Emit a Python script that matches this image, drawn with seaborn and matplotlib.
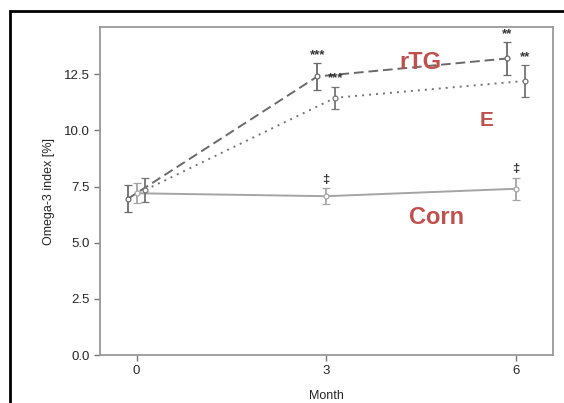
import matplotlib
matplotlib.use("Agg")
import matplotlib.pyplot as plt
from matplotlib.patches import Rectangle
import numpy as np
import pandas as pd
import seaborn as sns

months = [0, 3, 6]
offsets = {"rTG": -0.14, "Corn": 0.0, "E": 0.14}

rtg_mean = [6.95, 12.4, 13.2]
rtg_err = [0.6, 0.6, 0.73]
rtg_marks = ["", "***", "**"]

e_mean = [7.35, 11.45, 12.2]
e_err = [0.55, 0.5, 0.7]
e_marks = ["", "***", "**"]

corn_mean = [7.2, 7.07, 7.4]
corn_err = [0.45, 0.35, 0.5]
corn_marks = ["", "\u2021", "\u2021"]

series = [
    ("rTG", rtg_mean, rtg_err, rtg_marks, "#6a6a6a", (5, 2.5)),
    ("E", e_mean, e_err, e_marks, "#747474", (1, 2.6)),
    ("Corn", corn_mean, corn_err, corn_marks, "#a4a4a4", ""),
]

sns.set_style("ticks")
plt.rcParams["font.family"] = ["Liberation Sans", "DejaVu Sans"]

fig = plt.figure(figsize=(5.64, 4.03), dpi=100)
ax = fig.add_axes([0.177, 0.119, 0.803, 0.814])

frames = []
for name, mean, err, marks, color, dash in series:
    frames.append(pd.DataFrame({
        "x": np.array(months) + offsets[name],
        "y": mean, "err": err, "group": name,
    }))
df = pd.concat(frames, ignore_index=True)

sns.lineplot(
    data=df, x="x", y="y", hue="group", style="group",
    palette={s[0]: s[4] for s in series},
    dashes={s[0]: s[5] for s in series},
    markers=False, linewidth=1.4, legend=False, ax=ax,
)

for name, mean, err, marks, color, dash in series:
    xs = np.array(months) + offsets[name]
    ax.errorbar(xs, mean, yerr=err, fmt="o", ms=3.5, mfc="white", mec=color,
                mew=0.9, ecolor=color, elinewidth=1.3, capsize=3, capthick=1.3,
                zorder=3)
    for x, m, e, t in zip(xs, mean, err, marks):
        if t:
            ax.annotate(t, (x, m + e), xytext=(0, 1.5), textcoords="offset points",
                        ha="center", va="bottom", fontsize=9.5, color="#333333",
                        fontweight="bold")

red = "#c0504d"
ax.text(4.16, 12.75, "rTG", color=red, fontsize=17, fontweight="bold")
ax.text(5.43, 10.2, "E", color=red, fontsize=15, fontweight="bold")
ax.text(4.3, 5.85, "Corn", color=red, fontsize=17, fontweight="bold")

ax.set_xlim(-0.58, 6.58)
ax.set_ylim(0, 14.6)
ax.set_xticks(months)
ax.set_yticks([0, 2.5, 5.0, 7.5, 10.0, 12.5])
ax.set_yticklabels(["0.0", "2.5", "5.0", "7.5", "10.0", "12.5"])
ax.set_xlabel("Month", fontsize=9, labelpad=9)
ax.set_ylabel("Omega-3 index [%]", fontsize=9, labelpad=6)
ax.tick_params(labelsize=9.5, color="#777777", length=4, width=1.0)
for sp in ax.spines.values():
    sp.set_visible(True)
    sp.set_color("#999999")
    sp.set_linewidth(1.3)

fig.patches.append(Rectangle((10 / 564, -0.1), 1.2, 1 - 11 / 403 + 0.1,
                             transform=fig.transFigure, fill=False,
                             edgecolor="black", linewidth=2.0))

fig.savefig("out.png", dpi=100)
